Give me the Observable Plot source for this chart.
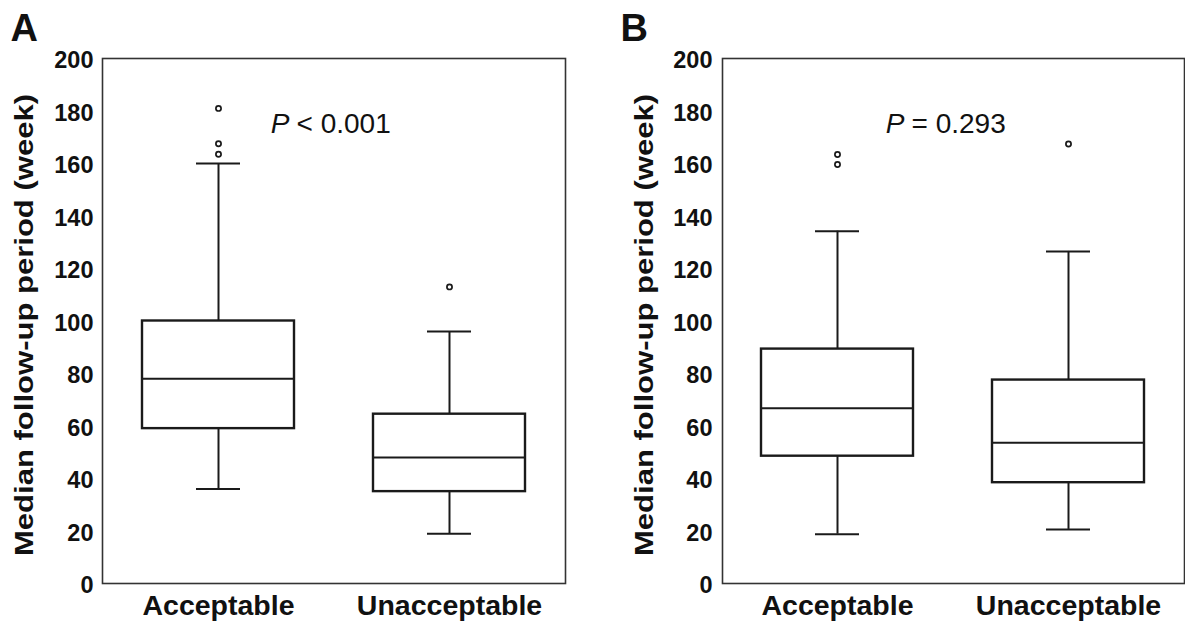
<!DOCTYPE html>
<html>
<head>
<meta charset="utf-8">
<script src="https://cdn.jsdelivr.net/npm/d3@7"></script>
<script src="https://cdn.jsdelivr.net/npm/@observablehq/plot@0.6"></script>
<style>
  html, body { margin: 0; padding: 0; background: #fff; }
  #wrap { display: flex; width: 1185px; height: 628px; }
</style>
</head>
<body>
<div id="wrap"></div>
<script>
const categories = ["Acceptable", "Unacceptable"];
const yTicks = [0, 20, 40, 60, 80, 100, 120, 140, 160, 180, 200];
const yTitle = "Median follow-up period (week)";

// Panel A
const aLow = [36, 19];
const aQ1 = [59, 35];
const aMedian = [78, 48];
const aQ3 = [100, 64.5];
const aHigh = [160, 96];
const aOutlierCat = ["Acceptable", "Acceptable", "Acceptable", "Unacceptable"];
const aOutlierVal = [181, 167.5, 163.5, 113];
const aP = "< 0.001";

// Panel B
const bLow = [18.8, 20.6];
const bQ1 = [48.5, 38.4];
const bMedian = [66.8, 53.6];
const bQ3 = [89.3, 77.5];
const bHigh = [134.2, 126.5];
const bOutlierCat = ["Acceptable", "Acceptable", "Unacceptable"];
const bOutlierVal = [163.4, 159.6, 167.4];
const bP = "= 0.293";

function panel(o) {
  const stats = categories.map((c, i) => ({cat: c, low: o.low[i], q1: o.q1[i], med: o.med[i], q3: o.q3[i], high: o.high[i]}));
  const outs = o.outVal.map((v, i) => ({cat: o.outCat[i], v}));
  const ink = "#1a1a1a";
  const svg = Plot.plot({
    width: o.width,
    height: 628,
    marginLeft: o.marginLeft,
    marginRight: o.marginRight,
    marginTop: 58,
    marginBottom: 45,
    style: {fontFamily: "'Liberation Sans', Arial, sans-serif", color: "#111", background: "#fff", overflow: "visible"},
    x: {domain: categories, paddingInner: 0.34, paddingOuter: 0.17, label: null},
    y: {domain: [0, 200], label: null},
    marks: [
      Plot.ruleX(stats, {x: "cat", y1: "low", y2: "q1", stroke: ink, strokeWidth: 2}),
      Plot.ruleX(stats, {x: "cat", y1: "q3", y2: "high", stroke: ink, strokeWidth: 2}),
      Plot.tickY(stats, {x: "cat", y: "low", stroke: ink, strokeWidth: 2, insetLeft: 54, insetRight: 54}),
      Plot.tickY(stats, {x: "cat", y: "high", stroke: ink, strokeWidth: 2, insetLeft: 54, insetRight: 54}),
      Plot.barY(stats, {x: "cat", y1: "q1", y2: "q3", fill: "#fff", stroke: ink, strokeWidth: 2.4}),
      Plot.tickY(stats, {x: "cat", y: "med", stroke: ink, strokeWidth: 2}),
      Plot.dot(outs, {x: "cat", y: "v", r: 2.6, stroke: ink, strokeWidth: 1.7, fill: "#fff"}),
      Plot.frame({stroke: "#333", strokeWidth: 1.6}),
      Plot.axisY(yTicks, {tickSize: 0, tickPadding: o.tickPad, dy: 2, fontSize: 23.5, fontWeight: "bold", label: null}),
      Plot.axisX({tickSize: 0, tickPadding: 11, fontSize: 28.5, fontWeight: "bold", label: null}),
      Plot.text([yTitle], {frameAnchor: "left", dx: o.titleDx, dy: 4, rotate: -90, textAnchor: "middle", fontSize: 25.5, fontWeight: "bold", fill: "#111", className: "ytitle"}),
      Plot.text([o.letter], {frameAnchor: "top-left", dx: o.letterDx, dy: -18, lineAnchor: "bottom", textAnchor: "start", fontSize: 38, fontWeight: "bold", fill: "#111"}),
      Plot.text(["P"], {frameAnchor: "top-left", dx: o.pDx, dy: 55, textAnchor: "end", fontSize: 28, fontStyle: "italic", fill: "#111"}),
      Plot.text([o.p], {frameAnchor: "top-left", dx: o.pDx + 7, dy: 55, textAnchor: "start", fontSize: 28, fill: "#111"})
    ]
  });
  // stretch the rotated title to the length seen in the reference
  svg.querySelectorAll("g.ytitle text").forEach(t => {
    t.setAttribute("textLength", "462");
    t.setAttribute("lengthAdjust", "spacingAndGlyphs");
  });
  return svg;
}

const wrap = document.getElementById("wrap");
wrap.append(panel({
  low: aLow, q1: aQ1, med: aMedian, q3: aQ3, high: aHigh,
  outCat: aOutlierCat, outVal: aOutlierVal, p: aP, letter: "A",
  width: 600, marginLeft: 102, marginRight: 35, tickPad: 9,
  titleDx: -78, letterDx: -92, pDx: 187
}));
wrap.append(panel({
  low: bLow, q1: bQ1, med: bMedian, q3: bQ3, high: bHigh,
  outCat: bOutlierCat, outVal: bOutlierVal, p: bP, letter: "B",
  width: 585, marginLeft: 122, marginRight: 1, tickPad: 10,
  titleDx: -78, letterDx: -102, pDx: 182
}));
</script>
</body>
</html>
